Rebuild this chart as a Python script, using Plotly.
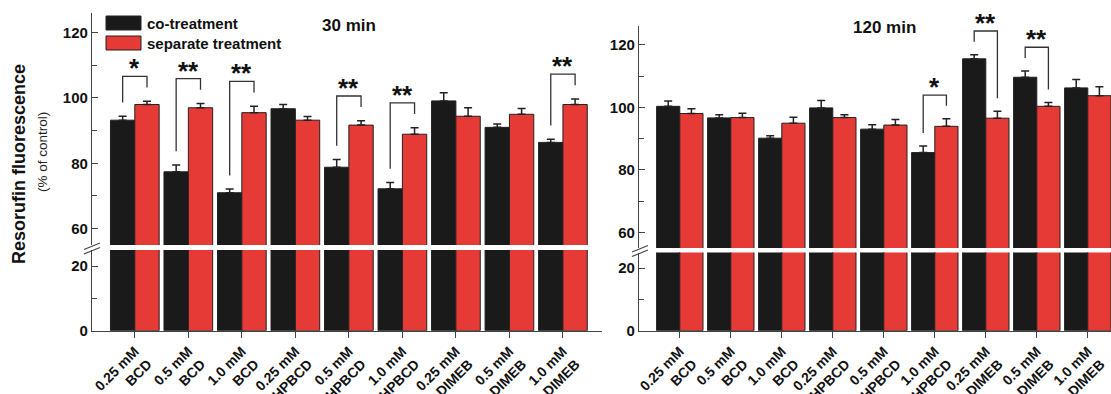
import plotly.graph_objects as go

# ---- data -------------------------------------------------------------
categories = ["0.25 mM<br>BCD", "0.5 mM<br>BCD", "1.0 mM<br>BCD",
              "0.25 mM<br>HPBCD", "0.5 mM<br>HPBCD", "1.0 mM<br>HPBCD",
              "0.25 mM<br>DIMEB", "0.5 mM<br>DIMEB", "1.0 mM<br>DIMEB"]

co_30 = [93.2, 77.4, 71.0, 96.7, 78.8, 72.2, 99.1, 91.0, 86.4]
co_30_err = [1.2, 2.1, 1.1, 1.3, 2.4, 1.9, 2.5, 1.0, 1.0]
sep_30 = [98.0, 97.0, 95.5, 93.2, 91.7, 88.9, 94.4, 95.0, 98.0]
sep_30_err = [1.0, 1.3, 2.0, 1.15, 1.3, 2.0, 2.6, 1.8, 1.7]
sig_30 = ["*", "**", "**", "", "**", "**", "", "", "**"]

co_120 = [100.3, 96.6, 90.1, 99.8, 93.0, 85.5, 115.5, 109.6, 106.2]
co_120_err = [1.7, 1.0, 0.8, 2.4, 1.4, 2.1, 1.3, 2.0, 2.7]
sep_120 = [98.0, 96.7, 94.9, 96.7, 94.3, 93.9, 96.5, 100.3, 103.7]
sep_120_err = [1.5, 1.4, 1.9, 0.9, 1.8, 2.4, 2.2, 1.2, 2.9]
sig_120 = ["", "", "", "", "", "*", "**", "**", ""]

y_ticks_upper = [60, 80, 100, 120]
y_ticks_lower = [0, 20]

# ---- style ------------------------------------------------------------
W, H = 1111, 394
BLACK = "#1a1a1a"
RED = "#e63a37"
EDGE = "#222222"
AXIS = "#444444"
FONT = "Liberation Sans, Arial, sans-serif"


def fx(px):
    return px / W


def fy(py):
    return 1 - py / H


x_idx = list(range(len(categories)))

fig = go.Figure()

# panels: (lower x/y suffix, upper x/y suffix, data)
panels = [
    ("", "2", co_30, co_30_err, sep_30, sep_30_err, sig_30),
    ("3", "4", co_120, co_120_err, sep_120, sep_120_err, sig_120),
]

for low, up, co, co_e, sep, sep_e, sig in panels:
    for ax, with_err in ((low, False), (up, True)):
        xa = "x" + ax
        ya = "y" + ax
        for vals, errs, col, name in ((co, co_e, BLACK, "co-treatment"),
                                      (sep, sep_e, RED, "separate treatment")):
            err = None
            if with_err:
                err = dict(type="data", symmetric=False, array=errs,
                           arrayminus=[0] * len(errs), color=EDGE,
                           thickness=1.5, width=4)
            fig.add_trace(go.Bar(
                x=x_idx, y=vals, xaxis=xa, yaxis=ya, name=name,
                marker=dict(color=col, line=dict(color=EDGE, width=1)),
                error_y=err, showlegend=False, hoverinfo="skip"))

    # significance brackets on the upper axes
    half = (1 - 0.09) / 4
    for i, s in enumerate(sig):
        if not s:
            continue
        top_l = co[i] + co_e[i]
        top_r = sep[i] + sep_e[i]
        top = max(top_l, top_r) + 7.6
        end_l = min(top_l + 4.2, top - 3.4)
        end_r = min(top_r + 4.2, top - 3.4)
        xl, xr = i - half, i + half
        fig.add_shape(type="path",
                      path=f"M {xl},{end_l} L {xl},{top} L {xr},{top} L {xr},{end_r}",
                      xref="x" + up, yref="y" + up,
                      line=dict(color="#333333", width=1.3))
        fig.add_annotation(x=i, y=top, xref="x" + up, yref="y" + up,
                           text=f"<b>{s}</b>", showarrow=False,
                           yanchor="bottom", yshift=-9,
                           font=dict(size=26, color="#111111", family=FONT))

# ---- axes -------------------------------------------------------------
tickfont_y = dict(size=15, color="#111111", family=FONT)
tickfont_x = dict(size=14, color="#111111", family=FONT)
tick_text = [f"<b>{c}</b>" for c in categories]


def xaxis(domain, rng, show_labels):
    d = dict(domain=domain, range=rng, showline=True, linecolor=AXIS,
             linewidth=1.3, showgrid=False, zeroline=False, automargin=False,
             tickmode="array", tickvals=x_idx, fixedrange=True)
    if show_labels:
        d.update(ticks="outside", ticklen=6, tickwidth=1.2, tickcolor=AXIS,
                 ticktext=tick_text, tickangle=-45, tickfont=tickfont_x)
    else:
        d.update(showline=False, ticks="", showticklabels=False)
    return d


def yaxis(domain, rng, anchor, vals):
    return dict(domain=domain, range=rng, anchor=anchor, showline=True,
                linecolor=AXIS, linewidth=1.3, showgrid=False, zeroline=False,
                automargin=False, tickmode="array", tickvals=vals,
                ticktext=[f"<b>{v}</b>" for v in vals],
                ticks="inside", ticklen=6, tickwidth=1.2, tickcolor=AXIS,
                tickfont=tickfont_y, fixedrange=True,
                minor=dict(tickmode="linear", tick0=0, dtick=10,
                           ticks="inside", ticklen=5, tickwidth=1.2,
                           tickcolor=AXIS))


left_dom = [fx(92), fx(602)]
right_dom = [fx(639), 1.0]

fig.update_layout(
    width=W, height=H, autosize=False, template="none",
    margin=dict(l=0, r=0, t=0, b=0, pad=0),
    paper_bgcolor="white", plot_bgcolor="rgba(0,0,0,0)",
    barmode="group", bargap=0.09, bargroupgap=0,
    showlegend=False,
    font=dict(family=FONT, color="#111111"),
    xaxis=xaxis(left_dom, [-0.8, 8.73], True),
    xaxis2=dict(xaxis(left_dom, [-0.8, 8.73], False), anchor="y2"),
    xaxis3=dict(xaxis(right_dom, [-0.8, 8.455], True), anchor="y3"),
    xaxis4=dict(xaxis(right_dom, [-0.8, 8.455], False), anchor="y4"),
    yaxis=yaxis([fy(330.7), fy(250)], [0, 25], "x", y_ticks_lower),
    yaxis2=yaxis([fy(245), fy(13)], [55, 126], "x2", y_ticks_upper),
    yaxis3=yaxis([fy(330.7), fy(252.6)], [0, 25], "x3", y_ticks_lower),
    yaxis4=yaxis([fy(247.9), fy(26)], [55, 126], "x4", y_ticks_upper),
)
fig.layout.xaxis.anchor = "y"

# axis-break marks
for x0, y0 in ((84, 249.5), (632, 252)):
    for dy in (0, 4.5):
        fig.add_shape(type="line", xref="paper", yref="paper",
                      x0=fx(x0), y0=fy(y0 + dy), x1=fx(x0 + 16), y1=fy(y0 + dy - 6.5),
                      line=dict(color=AXIS, width=1.2))

# legend
for (y0, y1), col, label in (((16, 30), BLACK, "co-treatment"),
                             ((36, 50), RED, "separate treatment")):
    fig.add_shape(type="rect", xref="paper", yref="paper",
                  x0=fx(106), x1=fx(141), y0=fy(y1), y1=fy(y0),
                  fillcolor=col, line=dict(color=EDGE, width=1))
    fig.add_annotation(x=fx(145), y=fy((y0 + y1) / 2), xref="paper", yref="paper",
                       text=f"<b>{label}</b>", showarrow=False,
                       xanchor="left", yanchor="middle",
                       font=dict(size=15, color="#111111", family=FONT))

# panel titles
for xc, yc, t in ((349, 25, "30 min"), (884, 27, "120 min")):
    fig.add_annotation(x=fx(xc), y=fy(yc), xref="paper", yref="paper",
                       text=f"<b>{t}</b>", showarrow=False,
                       xanchor="center", yanchor="middle",
                       font=dict(size=17, color="#111111", family=FONT))

# y-axis title
fig.add_annotation(x=fx(19), y=fy(164), xref="paper", yref="paper",
                   text="<b>Resorufin fluorescence</b>", textangle=-90,
                   showarrow=False, xanchor="center", yanchor="middle",
                   font=dict(size=18, color="#111111", family=FONT))
fig.add_annotation(x=fx(42), y=fy(152), xref="paper", yref="paper",
                   text="(% of control)", textangle=-90,
                   showarrow=False, xanchor="center", yanchor="middle",
                   font=dict(size=13.5, color="#222222", family=FONT))

fig.write_html("out.html")
